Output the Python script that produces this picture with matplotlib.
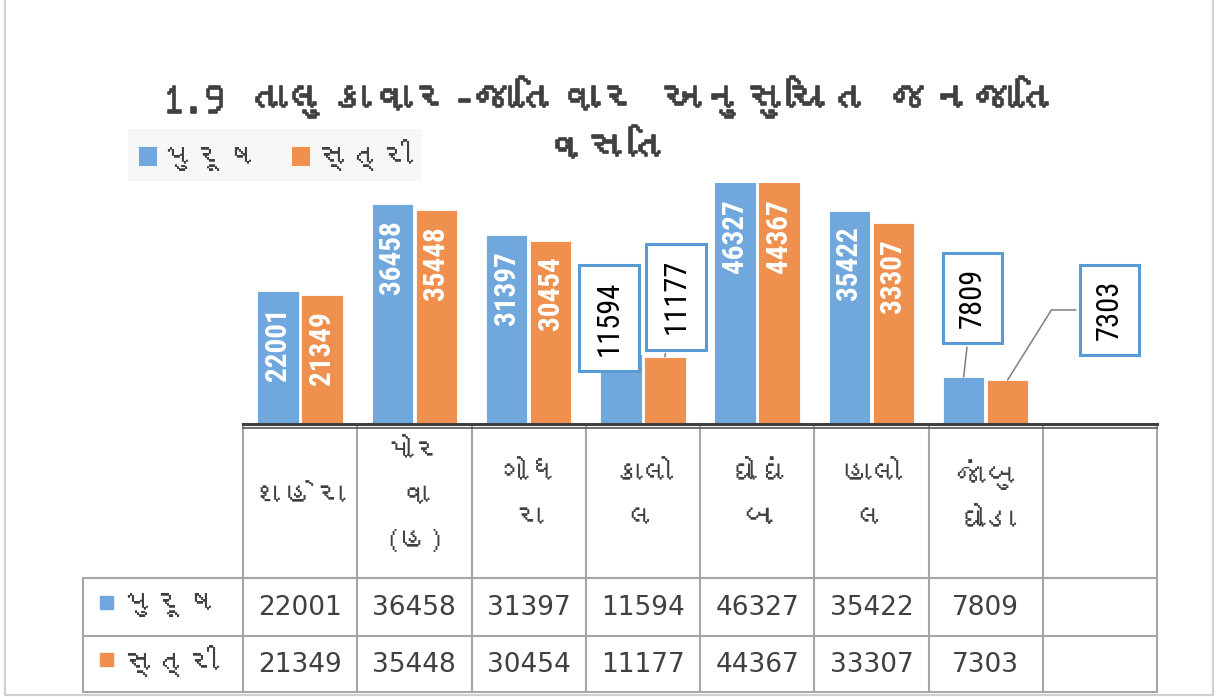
import matplotlib
matplotlib.use('Agg')
import matplotlib.pyplot as plt
import matplotlib.patheffects as pe
from matplotlib import font_manager
from matplotlib.ft2font import FT2Font
from matplotlib.patches import Rectangle
import numpy as np

# chart data
title_lines = ["1.9 તાલુકાવાર-જાતિવાર અનુસુચિત જનજાતિ", "વસતિ"]
series_names = ["પુરૂષ", "સ્ત્રી"]
categories = ["શહેરા", "મોરવા (હ)", "ગોધરા", "કાલોલ", "ઘોઘંબા", "હાલોલ", "જાંબુઘોડા", ""]
tick_labels = ["શહેરા", "મોર\nવા\n(હ)", "ગોધ\nરા", "કાલો\nલ", "ઘોઘં\nબા", "હાલો\nલ", "જાંબુ\nઘોડા", ""]
male = [22001, 36458, 31397, 11594, 46327, 35422, 7809]
female = [21349, 35448, 30454, 11177, 44367, 33307, 7303]
y_max = 40000

# labels drawn as callouts instead of inside the bar: (series, index) -> offset in pixels
callouts = {
    (0, 3): (-12, 36),
    (1, 3): (11, 60),
    (0, 6): (9, 79),
    (1, 6): (102, 70),
}

BLUE = '#70a7dc'
ORANGE = '#f0904e'
TEXT = '#404040'
GRID = '#a6a6a6'
W, H = 1222, 697


def find_gujarati_font():
    for f in font_manager.fontManager.ttflist:
        try:
            if 0x0A95 in FT2Font(f.fname).get_charmap():
                return f.name
        except Exception:
            pass
    return None


def find_narrow_font():
    names = {f.name for f in font_manager.fontManager.ttflist}
    for n in ['Liberation Sans Narrow', 'Roboto Condensed', 'Open Sans Condensed',
              'DejaVu Sans Condensed', 'Noto Sans Condensed']:
        if n in names:
            return n, 'normal', 21
    for f in font_manager.fontManager.ttflist:
        if f.name in ('DejaVu Sans', 'Noto Sans', 'Open Sans') and f.stretch == 'condensed':
            return f.name, 'condensed', 19
    return 'DejaVu Sans', 'normal', 15


guj = find_gujarati_font()
main_fonts = ([guj] if guj else []) + ['DejaVu Sans']
narrow, narrow_stretch, narrow_size = find_narrow_font()
narrow_fonts = [narrow, 'DejaVu Sans']
plt.rcParams['font.family'] = main_fonts

bold = [pe.withStroke(linewidth=1.2, foreground=TEXT)]

fig = plt.figure(figsize=(W / 100, H / 100), dpi=100)

# plot area in pixels
px_left, px_right, px_top, px_base = 243, 1157, 183, 424
ax = fig.add_axes([px_left / W, (H - px_base) / H,
                   (px_right - px_left) / W, (px_base - px_top) / H])
ax.set_xlim(-0.5, len(categories) - 0.5)
ax.set_ylim(0, y_max)
ax.axis('off')

x = np.arange(len(male))
off, bw = 0.1925, 0.365
bars_m = ax.bar(x - off, male, bw, color=BLUE, edgecolor='white', linewidth=0.6)
bars_f = ax.bar(x + off, female, bw, color=ORANGE, edgecolor='white', linewidth=0.6)

for s, (vals, xs) in enumerate([(male, x - off), (female, x + off)]):
    for i, v in enumerate(vals):
        if (s, i) in callouts:
            conn = 'arc3'
            if callouts[(s, i)][0] > 50:
                conn = 'angle,angleA=0,angleB=58,rad=0'
            ax.annotate(str(v), xy=(xs[i], v), xytext=callouts[(s, i)],
                        textcoords='offset pixels', rotation=90,
                        ha='center', va='center', fontsize=narrow_size + 1, color='black',
                        family=narrow_fonts, fontstretch=narrow_stretch,
                        bbox=dict(boxstyle='square,pad=0.5', fc='white',
                                  ec='#5b9bd5', lw=2.2),
                        arrowprops=dict(arrowstyle='-', color='#7f7f7f', lw=1.1,
                                        connectionstyle=conn, shrinkB=0),
                        annotation_clip=False, zorder=6)
        else:
            ax.annotate(str(v), xy=(xs[i], min(v, y_max)), xytext=(0, -16),
                        textcoords='offset pixels', rotation=90,
                        ha='center', va='top', fontsize=narrow_size, color='white',
                        fontweight='bold', family=narrow_fonts,
                        fontstretch=narrow_stretch, zorder=5)

# title (two lines) and legend
fig.text(610 / W, 1 - 97 / H, title_lines[0], ha='center', va='center', fontsize=30,
         fontweight='bold', color=TEXT, path_effects=bold)
fig.text(608 / W, 1 - 149 / H, title_lines[1], ha='center', va='center', fontsize=30,
         fontweight='bold', color=TEXT, path_effects=bold)

leg = fig.legend([bars_m, bars_f], series_names, loc='center left',
                 bbox_to_anchor=(128 / W, 1 - 155 / H), ncol=2, frameon=True,
                 fontsize=23, handlelength=0.6, handleheight=0.6,
                 handletextpad=0.2, columnspacing=1.0, borderpad=0.3,
                 borderaxespad=0)
leg.get_frame().set_facecolor('#f6f6f6')
leg.get_frame().set_edgecolor('none')
leg.get_frame().set_boxstyle('square', pad=0)
for t in leg.get_texts():
    t.set_color(TEXT)

# data table under the bars, drawn in pixel coordinates
tab = fig.add_axes([0, 0, 1, 1], facecolor='none')
tab.set_xlim(0, W)
tab.set_ylim(H, 0)
tab.axis('off')

col_w = (px_right - px_left) / len(categories)
col_x = [px_left + k * col_w for k in range(len(categories) + 1)]
row_left = 83
row_y = [px_base, 578, 636, 692]

for cx in col_x:
    tab.plot([cx, cx], [px_base, row_y[-1]], color=GRID, lw=1.5)
tab.plot([row_left, row_left], [row_y[1], row_y[-1]], color=GRID, lw=1.5)
for ry in row_y[1:]:
    tab.plot([row_left, px_right], [ry, ry], color=GRID, lw=1.5)
tab.plot([px_left, px_right], [px_base, px_base], color='#404040', lw=2.2)
tab.plot([px_left, px_right], [px_base + 3.5, px_base + 3.5], color='#595959', lw=1.2)

for k, lab in enumerate(tick_labels):
    tab.text(col_x[k] + col_w / 2, 497, lab, ha='center', va='center',
             fontsize=22, color=TEXT, linespacing=1.9)

for r, (vals, color) in enumerate([(male, BLUE), (female, ORANGE)]):
    yc = (row_y[r + 1] + row_y[r + 2]) / 2
    tab.add_patch(Rectangle((100, yc - 11), 13, 13, color=color))
    tab.text(123, yc - 3, series_names[r], ha='left', va='center',
             fontsize=23, color=TEXT)
    for k, v in enumerate(vals):
        tab.text(col_x[k] + col_w / 2, yc + 1, str(v), ha='center', va='center',
                 fontsize=19, color=TEXT, family=['DejaVu Sans'])

# outer frame of the chart
tab.plot([5, 5, 1213, 1213], [0, 695, 695, 0], color='#d0d0d0', lw=1.5)

fig.savefig('out.png', dpi=100)
